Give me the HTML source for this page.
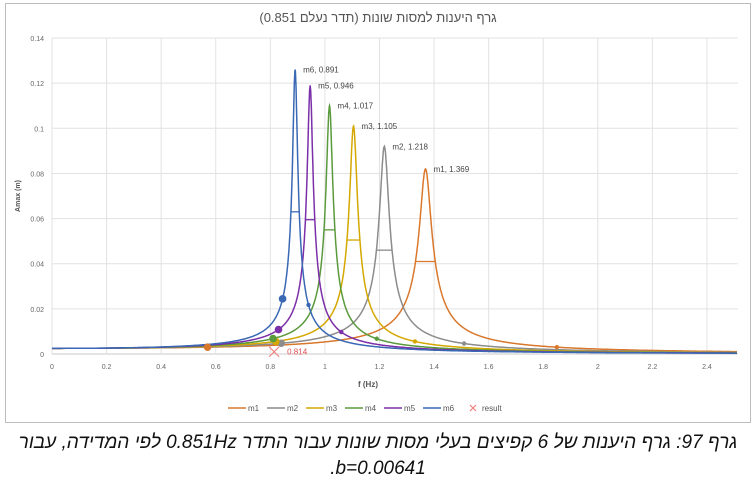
<!DOCTYPE html>
<html><head><meta charset="utf-8"><style>
body{margin:0;background:#fff;width:756px;height:483px;overflow:hidden;font-family:"Liberation Sans",sans-serif}
#frame{position:absolute;left:5px;top:3px;width:746px;height:420px;border:1px solid #bdbdbd;box-sizing:border-box}
.cap{position:absolute;left:0;width:756px;text-align:center;font-style:italic;font-size:19px;color:#111;font-family:"Liberation Sans","Noto Sans CJK SC",sans-serif}
</style></head><body>
<div id="frame"></div>
<svg id="chart" width="756" height="430" style="position:absolute;left:0;top:0" font-family="Liberation Sans, sans-serif"></svg>
<div class="cap" style="top:432px" dir="rtl">גרף 97: גרף היענות של 6 קפיצים בעלי מסות שונות עבור התדר 0.851Hz לפי המדידה, עבור</div>
<div class="cap" style="top:458px" dir="ltr">.b=0.00641</div>
<script>
const seriesNames=["m1","m2","m3","m4","m5","m6"];
const colors=["#d9782d","#8c8c8c","#d4a800","#5a9a3c","#7b2fa8","#3a68b4"];
const resFreq=[1.369,1.218,1.105,1.017,0.946,0.891];
const peakAmp=[0.082,0.092,0.101,0.110,0.119,0.126];
const staticAmp=[0.0025,0.0025,0.0025,0.0025,0.0025,0.0025];
const bigDotF=[0.57,0.84,0.82,0.81,0.83,0.845];
const smallDotF=[1.85,1.51,1.33,1.19,1.06,0.94];
const resultF=0.814, resultA=0.001;
const xTicks=[0,0.2,0.4,0.6,0.8,1,1.2,1.4,1.6,1.8,2,2.2,2.4];
const yTicks=[0,0.02,0.04,0.06,0.08,0.1,0.12,0.14];
const svg=document.getElementById('chart');const NS='http://www.w3.org/2000/svg';
const X=f=>52+f*272.9, Y=a=>354-a*2257;
function el(t,a,p){const e=document.createElementNS(NS,t);for(const k in a)e.setAttribute(k,a[k]);(p||svg).appendChild(e);return e;}
const title=el('text',{x:378,y:22,'text-anchor':'middle','font-size':13,fill:'#555',direction:'rtl','font-family':'Liberation Sans, Noto Sans CJK SC, sans-serif'});title.textContent='גרף היענות למסות שונות (תדר נעלם 0.851)';

yTicks.forEach(v=>{const g=el('line',{x1:52,x2:738,y1:Y(v),y2:Y(v),stroke:v==0?'#c8c8c8':'#e2e2e2'});

const t=el('text',{x:44,y:Y(v)+3,'text-anchor':'end','font-size':7,fill:'#666'});t.textContent=v;
});
xTicks.forEach(v=>{const g=el('line',{x1:X(v),x2:X(v),y1:Y(0.14),y2:Y(0),stroke:'#e2e2e2'});

const t=el('text',{x:X(v),y:369,'text-anchor':'middle','font-size':7,fill:'#666'});t.textContent=v;
});
const xt=el('text',{x:368,y:387,'text-anchor':'middle','font-size':8,'font-weight':'bold',fill:'#555'});xt.textContent='f (Hz)';

const yt=el('text',{x:0,y:0,'text-anchor':'middle','font-size':7,'font-weight':'bold',fill:'#555',transform:'translate(20,196) rotate(-90)'});yt.textContent='Amax (m)';

function amp(i,f){const z=staticAmp[i]/(2*peakAmp[i]);const r=f/resFreq[i];return staticAmp[i]/Math.sqrt((1-r*r)**2+(2*z*r)**2);}
for(let i=0;i<6;i++){
const pts=[];for(let f=0;f<=2.51;f+=0.002){pts.push([f,Math.min(amp(i,f),peakAmp[i])]);}
pts.push([resFreq[i],peakAmp[i]]);pts.sort((a,b)=>a[0]-b[0]);
let d='';pts.forEach(p=>{d+=(d?'L':'M')+X(p[0]).toFixed(1)+','+Y(p[1]).toFixed(1);});
const p=el('path',{d:d,fill:'none',stroke:colors[i],'stroke-width':1.5});

const z=staticAmp[i]/(2*peakAmp[i]);const hw=Math.sqrt(3)*z*resFreq[i];
const h=el('line',{x1:X(resFreq[i]-hw),x2:X(resFreq[i]+hw),y1:Y(peakAmp[i]/2),y2:Y(peakAmp[i]/2),stroke:colors[i],'stroke-width':1.3});

const lb=el('text',{x:X(resFreq[i])+8,y:Y(peakAmp[i])+3,'font-size':8,fill:'#444'});lb.textContent=seriesNames[i]+', '+resFreq[i];
}
for(let i=0;i<6;i++){const c1=el('circle',{cx:X(bigDotF[i]),cy:Y(amp(i,bigDotF[i])),r:3.8,fill:colors[i]});

const c2=el('circle',{cx:X(smallDotF[i]),cy:Y(amp(i,smallDotF[i])),r:2.2,fill:colors[i]});
}
const rx=X(resultF),ry=Y(resultA);
const rm=el('path',{d:`M${rx-5},${ry-5}L${rx+5},${ry+5}M${rx-5},${ry+5}L${rx+5},${ry-5}`,stroke:'#f08080','stroke-width':1.2});

const rl=el('text',{x:rx+13,y:ry+3,'font-size':8,fill:'#e05050'});rl.textContent=resultF;

let lx=228;for(let i=0;i<6;i++){const l=el('line',{x1:lx,x2:lx+18,y1:408,y2:408,stroke:colors[i],'stroke-width':1.5});

const t=el('text',{x:lx+20,y:411,'font-size':8,fill:'#555'});t.textContent=seriesNames[i];
lx+=39;}
const lm=el('path',{d:`M${lx+8},405L${lx+14},411M${lx+8},411L${lx+14},405`,stroke:'#f08080','stroke-width':1.2});

const lt=el('text',{x:lx+20,y:411,'font-size':8,fill:'#555'});lt.textContent='result';

</script>
</body></html>
